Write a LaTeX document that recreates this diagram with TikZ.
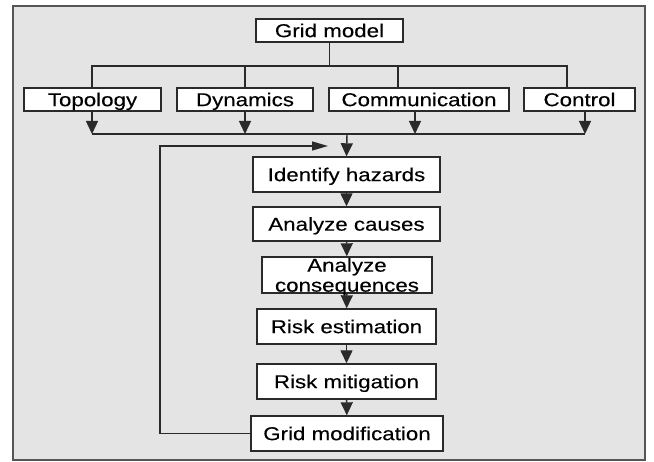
\documentclass[tikz,border=0pt]{standalone}
\usepackage{fontspec}
\setmainfont{Liberation Sans}[FakeStretch=1.2,FakeBold=0.2]
\usetikzlibrary{arrows.meta}
\definecolor{panel}{HTML}{E4E4E4}
\definecolor{ink}{HTML}{2A2A2A}
\tikzset{
  box/.style={draw=ink, line width=1.4pt, fill=white, inner sep=0pt,
    font=\fontsize{18.6}{20}\selectfont, align=center,
    text height=13.3pt, text depth=0pt},
  wire/.style={draw=ink, line width=1.4pt},
  flow/.style={wire, -{Triangle[width=12pt,length=13pt]}},
  back/.style={wire, -{Triangle[width=9pt,length=16pt]}}
}
\begin{document}
\begin{tikzpicture}[x=1pt,y=-1pt]
\useasboundingbox (0,0) rectangle (654,462);
% panel
\draw[fill=panel, draw=ink!80, line width=1.3pt] (13,6) rectangle (645,460);

% model and its four aspects
\node[box, minimum width=147pt, minimum height=23pt] (gm) at (329.5,30.5) {Grid model};
\node[box, minimum width=137pt, minimum height=23pt] (topo) at (92.5,99.5) {Topology};
\node[box, minimum width=136pt, minimum height=23pt] (dyn) at (245,99.5) {Dynamics};
\node[box, minimum width=180pt, minimum height=23pt] (comm) at (419,99.5) {Communication};
\node[box, minimum width=111pt, minimum height=23pt] (ctrl) at (579.5,99.5) {Control};

% risk assessment chain
\node[box, minimum width=187pt, minimum height=35pt] (haz) at (346.5,174.5) {Identify hazards};
\node[box, minimum width=187pt, minimum height=34pt] (cau) at (346.5,224) {Analyze causes};
\node[box, minimum width=170pt, minimum height=36pt, text height=33.3pt] (con) at (347,275) {Analyze\\consequences};
\node[box, minimum width=179pt, minimum height=35pt] (est) at (346.5,326.5) {Risk estimation};
\node[box, minimum width=179pt, minimum height=35pt] (mit) at (346.5,381.5) {Risk mitigation};
\node[box, minimum width=192pt, minimum height=35pt] (mod) at (347,433.5) {Grid modification};

% distribution bus below the model
\coordinate (busL) at (92,66);
\coordinate (busR) at (567,66);
\draw[wire] (gm.south) -- (gm.south |- busL);
\draw[wire] (topo.north -| busL) -- (busL) -- (busR) -- (ctrl.north -| busR);
\draw[wire] (dyn.north) -- (dyn.north |- busL);
\draw[wire] ([xshift=-21pt]comm.north) -- ([xshift=-21pt]comm.north |- busL);

% collecting bus above the chain
\coordinate (colL) at (92,134);
\coordinate (colR) at (585,134);
\coordinate (colM) at (347,134);
\draw[wire] (colL) -- (colR);
\draw[flow] (topo.south -| colL) -- (colL);
\draw[flow] (dyn.south) -- (dyn.south |- colL);
\draw[flow] ([xshift=-4pt]comm.south) -- ([xshift=-4pt]comm.south |- colL);
\draw[flow] (ctrl.south -| colR) -- (colR);
\draw[flow] (colM) -- (haz.north);

% chain arrows
\draw[flow] (haz) -- (cau);
\draw[flow] (cau) -- (con);
\draw[flow] (con) -- (est);
\draw[flow] (est) -- (mit);
\draw[flow] (mit) -- (mod);

% feedback loop
\coordinate (loopC) at (160,146);
\coordinate (loopE) at (328,146);
\draw[back] (mod.west) -| (loopC) -- (loopE);
\end{tikzpicture}
\end{document}
